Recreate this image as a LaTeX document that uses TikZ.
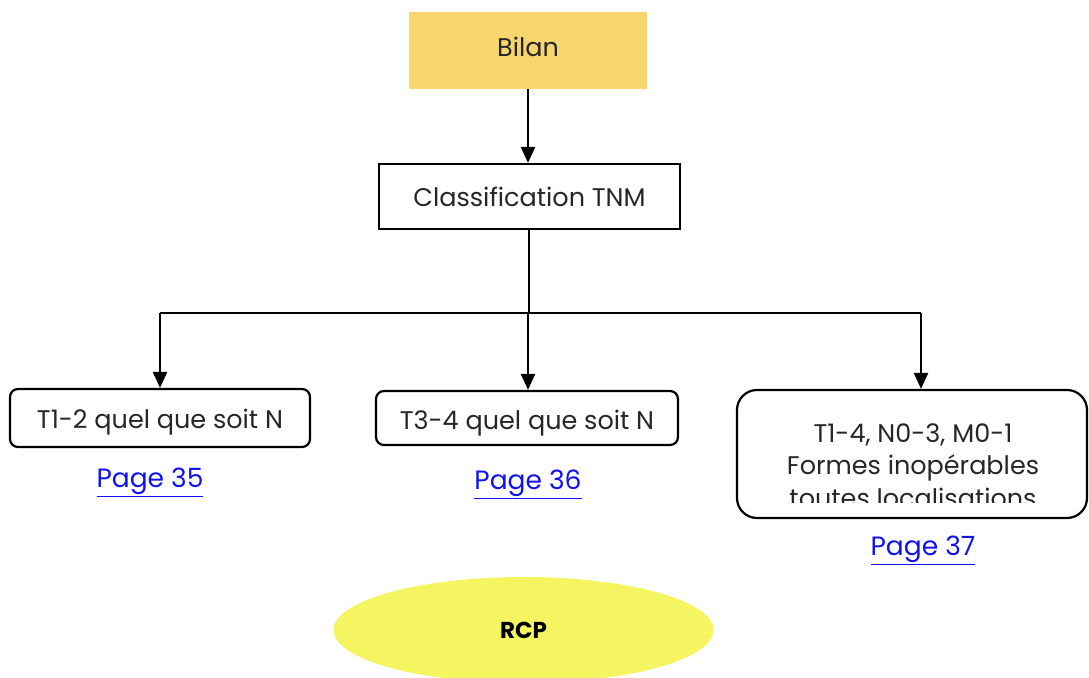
\documentclass[tikz,border=0pt]{standalone}
\usepackage{fontspec}
\setmainfont{Poppins}
\usetikzlibrary{arrows.meta,shapes.geometric}
\definecolor{bilanfill}{HTML}{F9D56E}
\definecolor{rcpfill}{HTML}{F5F562}
\definecolor{linkblue}{HTML}{1010F0}
\newcommand{\shifttxt}[2]{\raisebox{#1}[\height][\depth]{#2}}
\begin{document}
\begin{tikzpicture}[x=1pt,y=-1pt,
  txt/.style={font=\fontsize{25.5}{32}\selectfont, text=black!85},
  box/.style={draw, line width=2.2pt, inner sep=0pt, txt},
  rbox/.style={box, rounded corners=8pt},
  arr/.style={line width=2.4pt, -{Triangle[width=14pt,length=16pt]}},
  conn/.style={line width=2.2pt},
  link/.style={font=\fontsize{26.5}{30}\selectfont, text=linkblue}
]
\useasboundingbox (0,0) rectangle (1089,677);
\node[fill=bilanfill, minimum width=238, minimum height=77, inner sep=0pt, txt] (bilan) at (528,50.5) {\shifttxt{4pt}{Bilan}};
\node[box, minimum width=301, minimum height=65] (tnm) at (529.5,196.5) {Classification TNM};
\node[rbox, minimum width=300, minimum height=58] (b1) at (160,418) {\shifttxt{-4pt}{T1-2 quel que soit N}};
\node[rbox, minimum width=302, minimum height=54] (b2) at (527,418) {\shifttxt{-5pt}{T3-4 quel que soit N}};
\node[draw, line width=2.2pt, rounded corners=20pt, minimum width=350, minimum height=128, inner sep=0pt] (b3) at (912,454) {};
\begin{scope}
  \clip (737,392) rectangle (1087,502);
  \node[txt, anchor=base, inner sep=0pt] (b3l1) at (913,442) {T1-4, N0-3, M0-1};
  \node[txt, anchor=base, inner sep=0pt] (b3l2) at (913,474) {Formes inopérables};
  \node[txt, anchor=base, inner sep=0pt] (b3l3) at (913,507) {toutes localisations};
\end{scope}
\node[link] (p35) at (150,482) {\underline{Page 35}};
\node[link] (p36) at (528,484) {\underline{Page 36}};
\node[link] (p37) at (923,550) {\underline{Page 37}};
\node[ellipse, fill=rcpfill, minimum width=380, minimum height=106, inner sep=0pt, font=\fontsize{23}{26}\selectfont\bfseries] (rcp) at (523.5,630) {RCP};

\coordinate (j) at (529,313);
\coordinate (hl) at (160,313);
\coordinate (hm) at (528,313);
\coordinate (hr) at (921,313);
\draw[arr] (bilan.south) -- (bilan.south |- tnm.north);
\draw[conn] (tnm.south -| j) -- (j);
\draw[conn] (hl) -- (hr);
\draw[arr] (hl) -- (hl |- b1.north);
\draw[arr] (hm) -- (hm |- b2.north);
\draw[arr] (hr) -- (hr |- b3.north);
\end{tikzpicture}
\end{document}
